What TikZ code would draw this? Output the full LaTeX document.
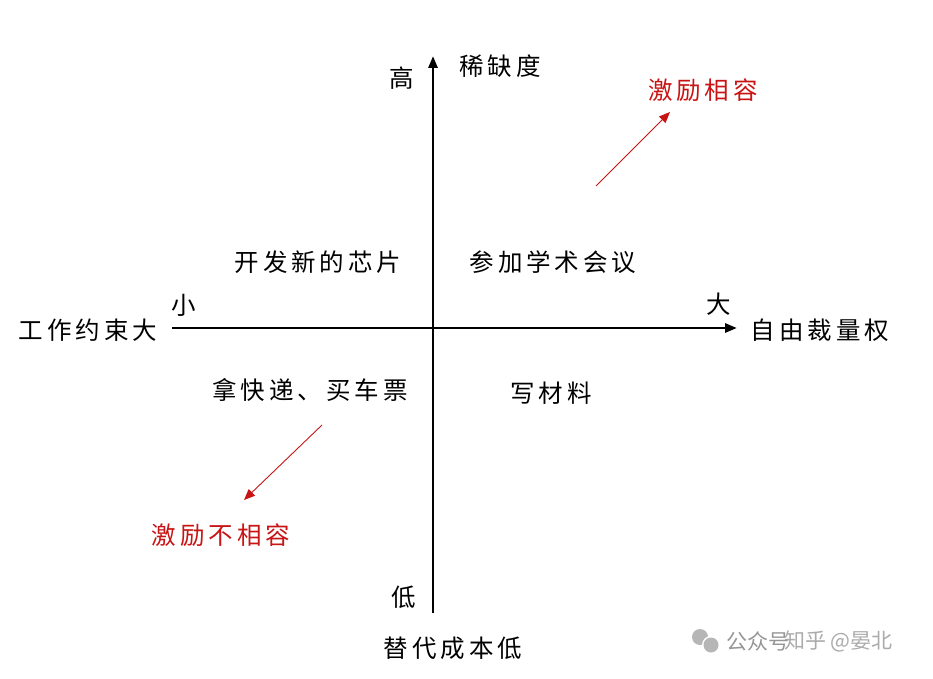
\documentclass[tikz,border=0pt]{standalone}
\usepackage{fontspec}
\setmainfont{Noto Sans CJK SC}[LetterSpace=16]
\newfontfamily\wmfont{Noto Sans CJK SC}
\usetikzlibrary{arrows.meta}
\definecolor{lred}{RGB}{200,20,20}
\definecolor{wmgray}{RGB}{150,150,150}
\tikzset{
  lbl/.style={inner sep=0pt, font=\fontsize{24.5}{26}\selectfont},
  rlbl/.style={lbl, text=lred},
  axis/.style={line width=2.8pt, -{Triangle[length=12pt,width=9pt]}},
  redarrow/.style={draw=lred, line width=0.9pt, -{Triangle[length=11pt,width=9pt]}},
  wm/.style={inner sep=0pt, text=wmgray, font=\wmfont\fontsize{21}{22}\selectfont, anchor=west}
}
\begin{document}
\begin{tikzpicture}[x=1pt,y=-1pt]
\useasboundingbox (0,0) rectangle (933,679);
\fill[white] (0,0) rectangle (933,679);
% axes
\coordinate (vb) at (433,613);
\coordinate (vt) at (433,56);
\coordinate (hl) at (172,328);
\coordinate (hr) at (737,328);
\draw[axis] (vb) -- (vt);
\draw[axis] (hl) -- (hr);
% labels
\node[lbl] (gao) at (402,78) {高};
\node[lbl] (xique) at (500,66) {稀缺度};
\node[lbl] (di) at (404,597) {低};
\node[lbl] (tidai) at (453,648) {替代成本低};
\node[lbl] (xiao) at (184,305) {小};
\node[lbl] (da) at (719,304) {大};
\node[lbl] (gongzuo) at (88,330) {工作约束大};
\node[lbl] (ziyou) at (820,330) {自由裁量权};
\node[lbl] (xinpian) at (318,262) {开发新的芯片};
\node[lbl] (xueshu) at (553,262) {参加学术会议};
\node[lbl] (kuaidi) at (310,390) {拿快递、买车票};
\node[lbl] (cailiao) at (551,393) {写材料};
\node[rlbl] (xiangrong) at (703,90) {激励相容};
\node[rlbl] (buxiangrong) at (221,535) {激励不相容};
% red arrows
\coordinate (a1s) at (596,186);
\coordinate (a1e) at (670,112);
\coordinate (a2s) at (322,425);
\coordinate (a2e) at (244,500);
\draw[redarrow] (a1s) -- (a1e);
\draw[redarrow] (a2s) -- (a2e);
% watermark
\fill[wmgray!70] (700,637) circle (8);
\fill[white] (711,645) circle (9);
\fill[wmgray!70] (711,645) circle (7.5);
\node[wm] (wm1) at (726,641) {公众号};
\node[wm, opacity=0.8] (wm2) at (784,641) {知乎 @晏北};
\end{tikzpicture}
\end{document}
